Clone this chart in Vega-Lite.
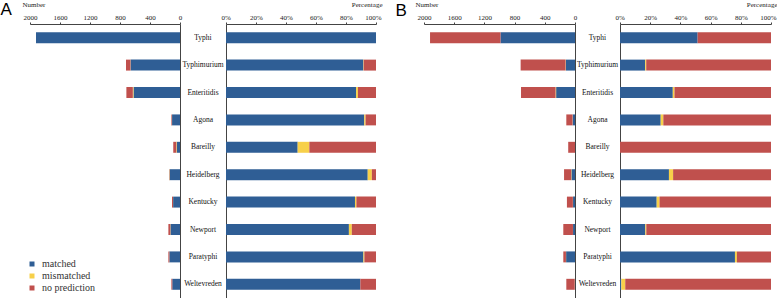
{
  "$schema": "https://vega.github.io/schema/vega-lite/v6.json",
  "padding": 0,
  "background": "white",
  "bounds": "flush",
  "spacing": 0,
  "config": {
    "view": {"stroke": null},
    "font": "Liberation Serif",
    "axis": {"labelFont": "Liberation Serif", "titleFont": "Liberation Serif", "labelFontSize": 7, "titleFontSize": 7, "titleFontWeight": "normal", "domainColor": "#444", "tickColor": "#444", "labelColor": "#222", "titleColor": "#222", "grid": false, "tickSize": 2, "labelPadding": 2},
    "legend": {"symbolType": "square", "symbolSize": 25, "labelFont": "Liberation Serif", "labelFontSize": 10, "labelColor": "#333", "rowPadding": 2, "symbolStrokeWidth": 0, "labelOffset": 5}
  },
  "data": {"values": [
    {"panel": "A", "serotype": "Typhi", "status": "matched", "count": 1920},
    {"panel": "A", "serotype": "Typhi", "status": "mismatched", "count": 0},
    {"panel": "A", "serotype": "Typhi", "status": "no prediction", "count": 0},
    {"panel": "A", "serotype": "Typhimurium", "status": "matched", "count": 659},
    {"panel": "A", "serotype": "Typhimurium", "status": "mismatched", "count": 2},
    {"panel": "A", "serotype": "Typhimurium", "status": "no prediction", "count": 59},
    {"panel": "A", "serotype": "Enteritidis", "status": "matched", "count": 620},
    {"panel": "A", "serotype": "Enteritidis", "status": "mismatched", "count": 9},
    {"panel": "A", "serotype": "Enteritidis", "status": "no prediction", "count": 86},
    {"panel": "A", "serotype": "Agona", "status": "matched", "count": 106},
    {"panel": "A", "serotype": "Agona", "status": "mismatched", "count": 1},
    {"panel": "A", "serotype": "Agona", "status": "no prediction", "count": 8},
    {"panel": "A", "serotype": "Bareilly", "status": "matched", "count": 43},
    {"panel": "A", "serotype": "Bareilly", "status": "mismatched", "count": 7},
    {"panel": "A", "serotype": "Bareilly", "status": "no prediction", "count": 40},
    {"panel": "A", "serotype": "Heidelberg", "status": "matched", "count": 137},
    {"panel": "A", "serotype": "Heidelberg", "status": "mismatched", "count": 4},
    {"panel": "A", "serotype": "Heidelberg", "status": "no prediction", "count": 4},
    {"panel": "A", "serotype": "Kentucky", "status": "matched", "count": 92},
    {"panel": "A", "serotype": "Kentucky", "status": "mismatched", "count": 1},
    {"panel": "A", "serotype": "Kentucky", "status": "no prediction", "count": 14},
    {"panel": "A", "serotype": "Newport", "status": "matched", "count": 127},
    {"panel": "A", "serotype": "Newport", "status": "mismatched", "count": 3},
    {"panel": "A", "serotype": "Newport", "status": "no prediction", "count": 25},
    {"panel": "A", "serotype": "Paratyphi", "status": "matched", "count": 142},
    {"panel": "A", "serotype": "Paratyphi", "status": "mismatched", "count": 1},
    {"panel": "A", "serotype": "Paratyphi", "status": "no prediction", "count": 12},
    {"panel": "A", "serotype": "Weltevreden", "status": "matched", "count": 103},
    {"panel": "A", "serotype": "Weltevreden", "status": "mismatched", "count": 0},
    {"panel": "A", "serotype": "Weltevreden", "status": "no prediction", "count": 12},
    {"panel": "B", "serotype": "Typhi", "status": "matched", "count": 987},
    {"panel": "B", "serotype": "Typhi", "status": "mismatched", "count": 0},
    {"panel": "B", "serotype": "Typhi", "status": "no prediction", "count": 933},
    {"panel": "B", "serotype": "Typhimurium", "status": "matched", "count": 120},
    {"panel": "B", "serotype": "Typhimurium", "status": "mismatched", "count": 5},
    {"panel": "B", "serotype": "Typhimurium", "status": "no prediction", "count": 595},
    {"panel": "B", "serotype": "Enteritidis", "status": "matched", "count": 250},
    {"panel": "B", "serotype": "Enteritidis", "status": "mismatched", "count": 8},
    {"panel": "B", "serotype": "Enteritidis", "status": "no prediction", "count": 457},
    {"panel": "B", "serotype": "Agona", "status": "matched", "count": 31},
    {"panel": "B", "serotype": "Agona", "status": "mismatched", "count": 2},
    {"panel": "B", "serotype": "Agona", "status": "no prediction", "count": 82},
    {"panel": "B", "serotype": "Bareilly", "status": "matched", "count": 0},
    {"panel": "B", "serotype": "Bareilly", "status": "mismatched", "count": 0},
    {"panel": "B", "serotype": "Bareilly", "status": "no prediction", "count": 90},
    {"panel": "B", "serotype": "Heidelberg", "status": "matched", "count": 47},
    {"panel": "B", "serotype": "Heidelberg", "status": "mismatched", "count": 4},
    {"panel": "B", "serotype": "Heidelberg", "status": "no prediction", "count": 94},
    {"panel": "B", "serotype": "Kentucky", "status": "matched", "count": 26},
    {"panel": "B", "serotype": "Kentucky", "status": "mismatched", "count": 2},
    {"panel": "B", "serotype": "Kentucky", "status": "no prediction", "count": 79},
    {"panel": "B", "serotype": "Newport", "status": "matched", "count": 26},
    {"panel": "B", "serotype": "Newport", "status": "mismatched", "count": 1},
    {"panel": "B", "serotype": "Newport", "status": "no prediction", "count": 128},
    {"panel": "B", "serotype": "Paratyphi", "status": "matched", "count": 118},
    {"panel": "B", "serotype": "Paratyphi", "status": "mismatched", "count": 2},
    {"panel": "B", "serotype": "Paratyphi", "status": "no prediction", "count": 35},
    {"panel": "B", "serotype": "Weltevreden", "status": "matched", "count": 1},
    {"panel": "B", "serotype": "Weltevreden", "status": "mismatched", "count": 3},
    {"panel": "B", "serotype": "Weltevreden", "status": "no prediction", "count": 111}
  ]},
  "hconcat": [
    {
      "width": 150, "height": 274,
      "transform": [{"filter": "datum.panel === 'A'"}],
      "mark": {"type": "bar"},
      "encoding": {
        "y": {"field": "serotype", "type": "nominal", "sort": null, "scale": {"paddingInner": 0.6, "paddingOuter": 0.3},
          "axis": {"orient": "right", "labels": false, "ticks": false, "domain": true, "title": "A", "titleAngle": 0, "titleX": -180, "titleY": -23, "titleAlign": "left", "titleBaseline": "top", "titleFont": "Liberation Sans", "titleFontSize": 17, "titleFontWeight": "normal", "titleColor": "black"}},
        "x": {"field": "count", "type": "quantitative", "stack": "zero", "scale": {"domain": [0, 2000], "reverse": true},
          "axis": {"orient": "top", "values": [0, 400, 800, 1200, 1600, 2000], "format": "d", "title": "Number", "titleX": -8, "titleY": -19.5, "titleAlign": "left", "titleBaseline": "middle", "labelFlush": false}},
        "color": {"field": "status", "type": "nominal", "scale": {"domain": ["matched", "mismatched", "no prediction"], "range": ["#2F5E95", "#F7D04A", "#C0504D"]},
          "legend": {"title": null, "orient": "none", "legendX": -3, "legendY": 235}}
      }
    },
    {
      "width": 46, "height": 274,
      "transform": [{"filter": "datum.panel === 'A' && datum.status === 'matched'"}],
      "mark": {"type": "text", "font": "Liberation Serif", "fontSize": 7.5, "color": "#111"},
      "encoding": {
        "y": {"field": "serotype", "type": "nominal", "sort": null, "scale": {"paddingInner": 0.6, "paddingOuter": 0.3}, "axis": null},
        "text": {"field": "serotype", "type": "nominal"}
      }
    },
    {
      "width": 150, "height": 274,
      "transform": [{"filter": "datum.panel === 'A'"}],
      "mark": {"type": "bar"},
      "encoding": {
        "y": {"field": "serotype", "type": "nominal", "sort": null, "scale": {"paddingInner": 0.6, "paddingOuter": 0.3},
          "axis": {"orient": "left", "labels": false, "ticks": false, "domain": true, "title": null}},
        "x": {"field": "count", "type": "quantitative", "stack": "normalize", "scale": {"domain": [0, 1]},
          "axis": {"orient": "top", "values": [0, 0.2, 0.4, 0.6, 0.8, 1], "format": ".0%", "title": "Percentage", "titleX": 156, "titleY": -19.5, "titleAlign": "right", "titleBaseline": "middle", "labelFlush": true, "labelFlushOffset": 5}},
        "color": {"field": "status", "type": "nominal", "scale": {"domain": ["matched", "mismatched", "no prediction"], "range": ["#2F5E95", "#F7D04A", "#C0504D"]},
          "legend": {"title": null, "orient": "none", "legendX": -3, "legendY": 235}}
      }
    },
    {
      "width": 48, "height": 274,
      "transform": [{"filter": "false"}],
      "mark": {"type": "text"},
      "encoding": {"text": {"field": "serotype", "type": "nominal"}}
    },
    {
      "width": 151, "height": 274,
      "transform": [{"filter": "datum.panel === 'B'"}],
      "mark": {"type": "bar"},
      "encoding": {
        "y": {"field": "serotype", "type": "nominal", "sort": null, "scale": {"paddingInner": 0.6, "paddingOuter": 0.3},
          "axis": {"orient": "right", "labels": false, "ticks": false, "domain": true, "title": "B", "titleAngle": 0, "titleX": -180, "titleY": -22, "titleAlign": "left", "titleBaseline": "top", "titleFont": "Liberation Sans", "titleFontSize": 17, "titleFontWeight": "normal", "titleColor": "black"}},
        "x": {"field": "count", "type": "quantitative", "stack": "zero", "scale": {"domain": [0, 2000], "reverse": true},
          "axis": {"orient": "top", "values": [0, 400, 800, 1200, 1600, 2000], "format": "d", "title": "Number", "titleX": -9, "titleY": -19.5, "titleAlign": "left", "titleBaseline": "middle", "labelFlush": false}},
        "color": {"field": "status", "type": "nominal", "scale": {"domain": ["matched", "mismatched", "no prediction"], "range": ["#2F5E95", "#F7D04A", "#C0504D"]},
          "legend": {"title": null, "orient": "none", "legendX": -3, "legendY": 235}}
      }
    },
    {
      "width": 45, "height": 274,
      "transform": [{"filter": "datum.panel === 'B' && datum.status === 'matched'"}],
      "mark": {"type": "text", "font": "Liberation Serif", "fontSize": 7.5, "color": "#111"},
      "encoding": {
        "y": {"field": "serotype", "type": "nominal", "sort": null, "scale": {"paddingInner": 0.6, "paddingOuter": 0.3}, "axis": null},
        "text": {"field": "serotype", "type": "nominal"}
      }
    },
    {
      "width": 151, "height": 274,
      "transform": [{"filter": "datum.panel === 'B'"}],
      "mark": {"type": "bar"},
      "encoding": {
        "y": {"field": "serotype", "type": "nominal", "sort": null, "scale": {"paddingInner": 0.6, "paddingOuter": 0.3},
          "axis": {"orient": "left", "labels": false, "ticks": false, "domain": true, "title": null}},
        "x": {"field": "count", "type": "quantitative", "stack": "normalize", "scale": {"domain": [0, 1]},
          "axis": {"orient": "top", "values": [0, 0.2, 0.4, 0.6, 0.8, 1], "format": ".0%", "title": "Percentage", "titleX": 157, "titleY": -19.5, "titleAlign": "right", "titleBaseline": "middle", "labelFlush": true, "labelFlushOffset": 5}},
        "color": {"field": "status", "type": "nominal", "scale": {"domain": ["matched", "mismatched", "no prediction"], "range": ["#2F5E95", "#F7D04A", "#C0504D"]},
          "legend": {"title": null, "orient": "none", "legendX": -3, "legendY": 235}}
      }
    }
  ]
}
